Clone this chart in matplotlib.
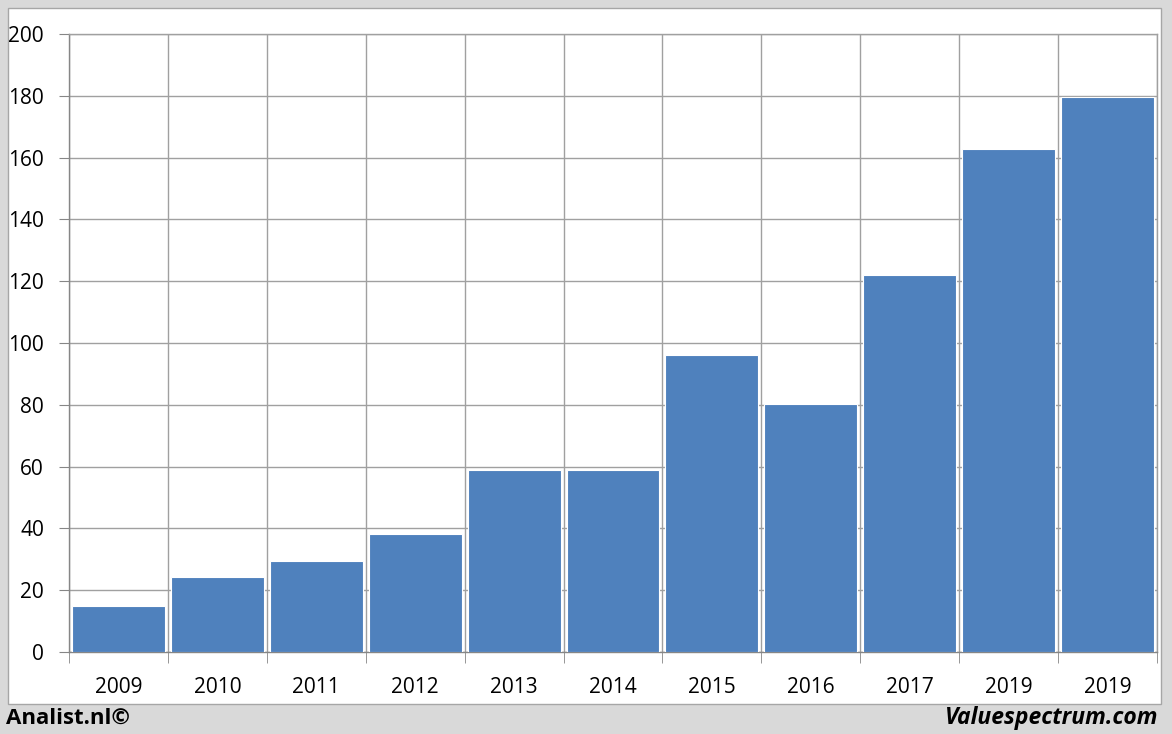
import matplotlib.pyplot as plt
import numpy as np
from matplotlib.patches import Rectangle

years = ['2009', '2010', '2011', '2012', '2013', '2014', '2015', '2016', '2017', '2019', '2019']
values = [15, 24.3, 29.4, 38.2, 58.9, 58.9, 96.1, 80.3, 122, 162.8, 179.6]
yticks = [0, 20, 40, 60, 80, 100, 120, 140, 160, 180, 200]

plt.rcParams['font.family'] = ['Open Sans', 'DejaVu Sans']

W, H = 1172, 734
fig = plt.figure(figsize=(W / 100, H / 100), dpi=100)
fig.patch.set_facecolor('#d9d9d9')

# white inner panel (drawn behind the axes)
fig.patches.append(Rectangle((8 / W, 1 - 704 / H), (1161 - 8) / W, (704 - 8) / H,
                             transform=fig.transFigure, facecolor='white',
                             edgecolor='#a6a6a6', linewidth=1, zorder=-1))

ax = fig.add_axes([69 / W, 1 - 652 / H, (1157 - 69) / W, (652 - 34) / H])
ax.set_facecolor('white')

x = np.arange(len(years))
ax.bar(x, values, width=0.94, color='#4f81bd', edgecolor='white', linewidth=0.8, zorder=3)

ax.set_xlim(-0.5, len(years) - 0.5)
ax.set_ylim(0, 200)

ax.set_yticks(yticks)
ax.set_yticklabels([str(v) for v in yticks], fontsize=15)
ax.set_xticks(x)
ax.set_xticklabels(years, fontsize=15)
ax.tick_params(axis='x', length=0, pad=18)
ax.tick_params(axis='y', length=7, color='#868686', pad=11)

# boundary ticks / vertical gridlines
ax.set_xticks(np.arange(-0.5, len(years), 1), minor=True)
ax.tick_params(axis='x', which='minor', length=8, color='#868686')
ax.grid(True, axis='x', which='minor', color='#a0a0a0', linewidth=1, zorder=0)
ax.grid(True, axis='y', which='major', color='#a0a0a0', linewidth=1, zorder=0)

for s in ax.spines.values():
    s.set_color('#a0a0a0')
    s.set_linewidth(1)
ax.spines['left'].set_color('#868686')
ax.spines['bottom'].set_color('#868686')

fig.text(6 / W, 1 - 718 / H, 'Analist.nl©', fontsize=16, fontweight='bold',
         ha='left', va='center', color='black')
fig.text(1158 / W, 1 - 718 / H, 'Valuespectrum.com', fontsize=16.5, fontweight='bold',
         fontstyle='italic', ha='right', va='center', color='black')

fig.savefig('out.png', dpi=100, facecolor=fig.get_facecolor())
